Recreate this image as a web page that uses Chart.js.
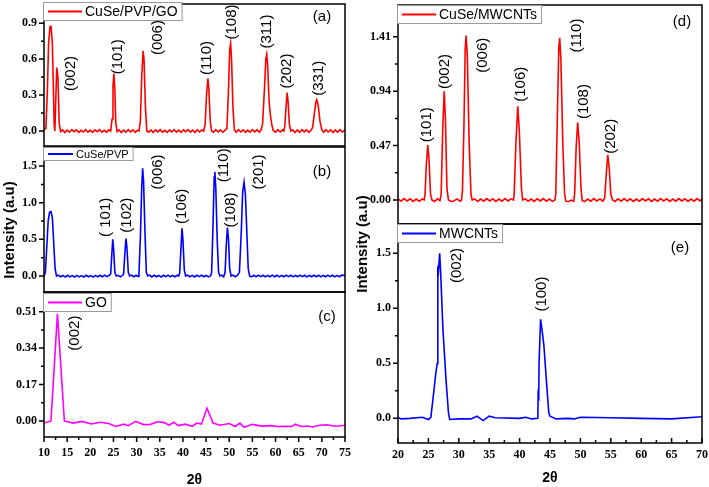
<!DOCTYPE html>
<html>
<head>
<meta charset="utf-8">
<script src="https://cdn.jsdelivr.net/npm/chart.js@4.4.0/dist/chart.umd.min.js"></script>
<style>
html, body { margin: 0; padding: 0; background: #fff; }
#fig { position: relative; width: 709px; height: 487px; overflow: hidden; background: #fff; }
#fig canvas { position: absolute; }
</style>
</head>
<body>
<div id="fig">
  <canvas id="ga" width="355" height="150" style="left:0;top:0"></canvas>
  <canvas id="gb" width="355" height="156" style="left:0;top:140px"></canvas>
  <canvas id="gc" width="355" height="201" style="left:0;top:286px"></canvas>
  <canvas id="gd" width="354" height="228" style="left:355px;top:0"></canvas>
  <canvas id="ge" width="354" height="337" style="left:355px;top:150px"></canvas>
</div>
<script>
// Dados: pares [2θ, intensidade]
const cuSePvpGo = [
  [10.0,0.01],[10.4,0.02],[10.7,0.3],[11.0,0.74],[11.3,0.87],[11.5,0.88],[11.8,0.74],[12.0,0.4],[12.2,0.05],[12.35,0.0],[12.5,0.2],[12.75,0.53],[13.0,0.45],[13.3,0.06],[13.6,-0.005],
  [14.0,0.01],[14.5,-0.012],[15.0,0.008],[15.5,-0.01],[16.0,0.012],[16.5,-0.006],[17.0,0.01],[17.5,-0.012],[18.0,0.006],[18.5,-0.008],[19.0,0.011],[19.5,-0.01],[20.0,0.007],[20.5,-0.012],[21.0,0.009],[21.5,-0.006],[22.0,0.012],[22.5,-0.01],[23.0,0.006],[23.5,-0.009],[24.0,0.01],[24.4,0.0],
  [24.7,0.1],[24.9,0.38],[25.1,0.48],[25.3,0.34],[25.5,0.07],[25.8,-0.005],
  [26.2,0.01],[26.7,-0.012],[27.2,0.008],[27.7,-0.01],[28.2,0.012],[28.7,-0.007],[29.2,0.01],[29.7,-0.011],[30.2,0.007],[30.5,0.0],
  [30.8,0.08],[31.1,0.45],[31.4,0.67],[31.6,0.6],[31.9,0.2],[32.2,0.0],
  [32.6,-0.01],[33.1,0.009],[33.6,-0.012],[34.1,0.01],[34.6,-0.007],[35.1,0.011],[35.6,-0.01],[36.1,0.006],[36.6,-0.012],[37.1,0.009],[37.6,-0.008],[38.1,0.012],[38.6,-0.01],[39.1,0.007],[39.6,-0.011],[40.1,0.01],[40.6,-0.006],[41.1,0.012],[41.6,-0.009],[42.1,0.008],[42.6,-0.012],[43.1,0.01],[43.6,-0.007],[44.1,0.009],[44.5,0.0],
  [44.8,0.06],[45.1,0.3],[45.4,0.44],[45.6,0.35],[45.9,0.08],[46.2,0.0],
  [46.6,-0.01],[47.1,0.011],[47.6,-0.008],[48.1,0.01],[48.6,-0.012],[49.1,0.007],[49.5,0.02],
  [49.8,0.3],[50.1,0.68],[50.3,0.73],[50.5,0.6],[50.8,0.2],[51.1,0.01],
  [51.5,-0.01],[52.0,0.012],[52.5,-0.008],[53.0,0.01],[53.5,-0.011],[54.0,0.008],[54.5,-0.01],[55.0,0.012],[55.5,-0.007],[56.0,0.01],[56.5,-0.009],[56.9,0.01],
  [57.2,0.06],[57.6,0.35],[57.9,0.6],[58.1,0.64],[58.3,0.55],[58.6,0.25],[58.9,0.13],[59.2,0.05],[59.5,0.005],
  [60.0,-0.01],[60.5,0.011],[61.0,-0.008],[61.5,0.01],[61.8,0.0],
  [62.0,0.04],[62.3,0.22],[62.5,0.32],[62.7,0.25],[63.0,0.05],[63.3,0.0],
  [63.7,0.01],[64.2,-0.012],[64.7,0.009],[65.2,-0.01],[65.7,0.012],[66.2,-0.007],[66.7,0.01],[67.2,-0.011],[67.7,0.008],
  [68.0,0.03],[68.4,0.15],[68.7,0.24],[68.9,0.26],[69.2,0.22],[69.6,0.08],[70.0,0.01],
  [70.4,-0.01],[70.9,0.011],[71.4,-0.008],[71.9,0.01],[72.4,-0.012],[72.9,0.009],[73.4,-0.01],[73.9,0.012],[74.4,-0.007],[75.0,0.008]
];

const cuSePvp = [
  [10.0,0.0],[10.3,0.05],[10.6,0.4],[10.9,0.75],[11.2,0.87],[11.5,0.88],[11.8,0.8],[12.1,0.45],[12.4,0.1],[12.7,0.0],
  [13.1,0.012],[13.6,-0.01],[14.1,0.008],[14.6,-0.014],[15.1,0.01],[15.6,-0.012],[16.1,0.006],[16.6,-0.015],[17.1,0.009],[17.6,-0.012],[18.1,0.005],[18.6,-0.014],[19.1,0.01],[19.6,-0.01],[20.1,0.006],[20.6,-0.015],[21.1,0.008],[21.6,-0.012],[22.1,0.01],[22.6,-0.01],[23.1,0.012],[23.6,-0.008],[24.1,0.01],
  [24.4,0.03],[24.65,0.3],[24.85,0.5],[25.05,0.35],[25.3,0.05],[25.6,0.0],
  [26.0,0.01],[26.5,-0.012],[27.0,0.01],
  [27.2,0.03],[27.45,0.3],[27.7,0.51],[27.9,0.4],[28.2,0.05],[28.5,0.0],
  [28.9,0.012],[29.4,-0.01],[29.9,0.01],[30.3,-0.005],
  [30.5,0.03],[30.8,0.5],[31.1,1.2],[31.3,1.47],[31.5,1.3],[31.8,0.6],[32.1,0.05],[32.4,0.0],
  [32.8,0.012],[33.3,-0.012],[33.8,0.01],[34.3,-0.01],[34.8,0.008],[35.3,-0.014],[35.8,0.01],[36.3,-0.008],[36.8,0.012],[37.3,-0.012],[37.8,0.008],[38.3,-0.01],[38.8,0.01],[39.1,0.0],
  [39.3,0.04],[39.55,0.35],[39.8,0.65],[40.0,0.5],[40.3,0.08],[40.6,0.0],
  [41.0,0.012],[41.5,-0.01],[42.0,0.009],[42.5,-0.013],[43.0,0.01],[43.5,-0.008],[44.0,0.012],[44.5,-0.01],[45.0,0.008],[45.5,-0.012],[46.0,0.005],
  [46.2,0.05],[46.5,0.7],[46.75,1.35],[46.9,1.42],[47.1,1.2],[47.4,0.5],[47.7,0.05],[48.0,0.0],
  [48.4,0.012],[48.8,-0.01],[49.1,0.05],[49.35,0.4],[49.6,0.66],[49.85,0.5],[50.1,0.1],[50.4,0.0],
  [50.8,0.012],[51.3,-0.01],[51.8,0.01],[52.2,0.05],[52.6,0.6],[52.9,1.15],[53.2,1.28],[53.5,1.1],[53.8,0.6],[54.1,0.1],[54.4,0.0],
  [54.8,-0.012],[55.3,0.01],[55.8,-0.01],[56.3,0.012],[56.8,-0.008],[57.3,0.01],[57.8,-0.012],[58.3,0.008],[58.8,-0.01],[59.3,0.012],[59.8,-0.009],[60.3,0.01],[60.8,-0.012],[61.3,0.008],[61.8,-0.01],[62.3,0.012],[62.8,-0.008],[63.3,0.01],[63.8,-0.012],[64.3,0.009],[64.8,-0.01],[65.3,0.012],[65.8,-0.008],[66.3,0.01],[66.8,-0.012],[67.3,0.008],[67.8,-0.01],[68.3,0.012],[68.8,-0.009],[69.3,0.01],[69.8,-0.012],[70.3,0.008],[70.8,-0.01],[71.3,0.012],[71.8,-0.008],[72.3,0.01],[72.8,-0.012],[73.3,0.009],[73.8,-0.01],[74.3,0.012],[75.0,0.005]
];

const go = [
  [10.0,-0.01],[11.5,0.0],[12.9,0.5],[14.4,0.0],[16.3,-0.01],[18.2,-0.002],[20.2,-0.014],[22.2,-0.006],[24.0,-0.012],[25.5,-0.026],[27.2,-0.015],[28.2,-0.022],[29.8,-0.002],[31.5,-0.017],[33.0,-0.016],[34.5,-0.004],[36.0,-0.008],[37.0,-0.02],[38.0,-0.006],[39.0,-0.022],[40.5,-0.015],[42.0,-0.025],[43.0,-0.01],[44.0,-0.015],[45.2,0.059],[46.5,-0.01],[48.0,-0.02],[50.0,-0.012],[51.3,-0.026],[52.3,-0.01],[53.2,-0.03],[55.0,-0.016],[57.0,-0.024],[59.0,-0.022],[60.5,-0.026],[62.0,-0.025],[63.5,-0.026],[64.3,-0.015],[65.5,-0.026],[67.0,-0.024],[68.0,-0.028],[69.5,-0.02],[71.0,-0.018],[73.0,-0.025],[75.0,-0.02]
];

const cuSeMwcnts = [
  [20.0,0.01],[20.5,-0.01],[21.0,0.012],[21.5,-0.008],[22.0,0.01],[22.5,-0.012],[23.0,0.008],[23.5,-0.01],[24.0,0.01],[24.3,0.0],
  [24.45,0.05],[24.65,0.3],[24.9,0.475],[25.1,0.35],[25.35,0.05],[25.6,0.0],
  [26.0,-0.012],[26.5,0.01],[26.9,-0.005],
  [27.1,0.05],[27.35,0.6],[27.6,0.94],[27.8,0.7],[28.05,0.1],[28.3,0.0],
  [28.7,-0.012],[29.2,-0.008],[29.7,0.01],[30.2,-0.01],[30.45,0.0],
  [30.6,0.08],[30.85,0.65],[31.05,1.3],[31.2,1.42],[31.4,1.25],[31.7,0.5],[32.0,0.05],[32.2,0.0],
  [32.6,0.01],[33.1,-0.012],[33.6,0.008],[34.1,-0.01],[34.6,0.012],[35.1,-0.008],[35.6,0.01],[36.1,-0.012],[36.6,0.008],[37.1,-0.01],[37.6,0.012],[38.1,-0.008],[38.6,0.01],[39.0,0.0],
  [39.1,0.05],[39.4,0.5],[39.7,0.81],[39.95,0.6],[40.3,0.1],[40.5,0.0],
  [40.9,0.012],[41.4,-0.01],[41.9,0.008],[42.4,-0.012],[42.9,0.01],[43.4,-0.008],[43.9,0.012],[44.4,-0.01],[44.9,0.008],[45.4,-0.012],[45.8,0.0],
  [45.95,0.05],[46.2,0.7],[46.45,1.32],[46.6,1.4],[46.8,1.2],[47.1,0.5],[47.4,0.05],[47.6,-0.01],
  [48.0,-0.014],[48.5,0.0],[48.9,-0.01],
  [49.05,0.05],[49.3,0.45],[49.55,0.67],[49.8,0.5],[50.1,0.1],[50.3,-0.005],
  [50.7,-0.014],[51.2,0.008],[51.7,-0.01],[52.2,0.012],[52.7,-0.008],[53.2,0.01],[53.7,-0.01],[54.0,0.02],
  [54.25,0.22],[54.5,0.39],[54.75,0.27],[55.0,0.05],[55.3,0.0],
  [55.7,-0.012],[56.2,0.01],[56.7,-0.01],[57.2,0.012],[57.7,-0.008],[58.2,0.01],[58.7,-0.012],[59.2,0.008],[59.7,-0.01],[60.2,0.012],[60.7,-0.008],[61.2,0.01],[61.7,-0.012],[62.2,0.008],[62.7,-0.01],[63.2,0.012],[63.7,-0.008],[64.2,0.01],[64.7,-0.012],[65.2,0.008],[65.7,-0.01],[66.2,0.012],[66.7,-0.008],[67.2,0.01],[67.7,-0.012],[68.2,0.008],[68.7,-0.01],[69.2,0.012],[69.7,-0.008],[70.0,0.01]
];

const mwcnts = [
  [20.0,0.01],[20.5,-0.005],[22.0,0.0],[24.0,0.01],[25.0,-0.01],[25.4,0.01],[25.8,0.2],[26.2,0.4],[26.45,0.5],[26.55,1.35],[26.65,1.33],[26.85,1.5],[27.0,1.35],[27.4,0.8],[27.9,0.35],[28.3,0.05],[28.5,-0.01],
  [30.0,-0.005],[32.0,-0.005],[33.0,0.02],[33.5,0.0],[34.0,-0.02],[35.0,0.02],[36.0,0.005],[40.0,0.0],[41.0,0.01],[42.0,-0.005],[43.0,0.0],
  [43.05,0.22],[43.15,0.2],[43.2,0.5],[43.45,0.9],[43.7,0.8],[44.0,0.66],[44.4,0.35],[44.8,0.05],[45.0,0.02],
  [46.0,-0.005],[48.0,0.0],[49.0,-0.005],[50.0,0.01],[55.0,0.005],[60.0,0.0],[65.0,-0.005],[70.0,0.015]
];

// Ticks dos eixos
const xMaiorEsq = [10,15,20,25,30,35,40,45,50,55,60,65,70,75];
const xMenorEsq = [12.5,17.5,22.5,27.5,32.5,37.5,42.5,47.5,52.5,57.5,62.5,67.5,72.5];
const xMaiorDir = [20,25,30,35,40,45,50,55,60,65,70];
const xMenorDir = [22.5,27.5,32.5,37.5,42.5,47.5,52.5,57.5,62.5,67.5];
const yMaiorA = [0,0.3,0.6,0.9],   yMenorA = [0.15,0.45,0.75];
const yMaiorB = [0,0.5,1.0,1.5],   yMenorB = [0.25,0.75,1.25];
const yMaiorC = [0,0.17,0.34,0.51], yMenorC = [0.085,0.255,0.425];
const yMaiorD = [0,0.47,0.94,1.41], yMenorD = [0.235,0.705,1.175];
const yMaiorE = [0,0.5,1.0,1.5],   yMenorE = [0.25,0.75,1.25];

// Índices (hkl) com posição [2θ, intensidade] do centro do texto
const picosA = [["(002)",15.7,0.48],["(101)",25.9,0.62],["(006)",34.6,0.78],["(110)",45.2,0.61],["(108)",50.6,0.91],["(311)",58.1,0.83],["(202)",62.5,0.5],["(331)",69.4,0.44]];
const picosB = [["( 101)",23.4,0.8],["(102)",27.8,0.83],["(006)",34.6,1.42],["(106)",39.7,0.95],["(110)",48.8,1.51],["(108)",50.4,0.9],["(201)",56.5,1.42]];
const picosC = [["(002)",16.6,0.41]];
const picosD = [["(101)",24.7,0.65],["(002)",27.7,1.11],["(006)",34.0,1.25],["(106)",40.2,1.0],["(110)",49.4,1.42],["(108)",50.5,0.85],["(202)",55.0,0.55]];
const picosE = [["(002)",29.65,1.39],["(100)",43.6,1.13]];

Chart.defaults.color = "#000";
Chart.defaults.font.family = "'Liberation Serif', serif";

// Plugin que desenha moldura, ticks, legenda e rótulos de cada painel
function painelPlugin(cfg) {
  return {
    id: "painel",
    afterDraw(chart) {
      const { ctx, chartArea: a, scales } = chart;
      const sx = scales.x, sy = scales.y;
      ctx.save();
      ctx.strokeStyle = "#000";
      ctx.lineWidth = 1.5;
      ctx.strokeRect(a.left, a.top, a.right - a.left, a.bottom - a.top);

      // ticks do eixo y (para fora)
      ctx.beginPath();
      cfg.yMaior.forEach(v => { const p = sy.getPixelForValue(v); ctx.moveTo(a.left, p); ctx.lineTo(a.left - 5, p); });
      cfg.yMenor.forEach(v => { const p = sy.getPixelForValue(v); ctx.moveTo(a.left, p); ctx.lineTo(a.left - 3, p); });
      // ticks do eixo x (só nos painéis de baixo)
      if (cfg.xMaior) {
        const d = cfg.xDentro ? -1 : 1;
        cfg.xMaior.forEach(v => { const p = sx.getPixelForValue(v); ctx.moveTo(p, a.bottom); ctx.lineTo(p, a.bottom + 5 * d); });
        cfg.xMenor.forEach(v => { const p = sx.getPixelForValue(v); ctx.moveTo(p, a.bottom); ctx.lineTo(p, a.bottom + 3 * d); });
      }
      ctx.stroke();

      // índices dos picos
      ctx.fillStyle = "#000";
      ctx.font = "15px 'Liberation Sans'";
      ctx.textAlign = "center";
      ctx.textBaseline = "middle";
      cfg.picos.forEach(([t, x, y]) => {
        ctx.save();
        ctx.translate(sx.getPixelForValue(x), sy.getPixelForValue(y));
        ctx.rotate(-Math.PI / 2);
        ctx.fillText(t, 0, 0);
        ctx.restore();
      });

      // letra do painel
      ctx.fillText(cfg.letra, a.right - cfg.letraPos[0], a.top + cfg.letraPos[1]);

      // legenda
      const lg = cfg.legenda;
      const ds = chart.data.datasets[0];
      ctx.font = lg.fs + "px 'Liberation Sans'";
      const tw = ctx.measureText(ds.label).width;
      const bx = a.left - 1, by = a.top + lg.dy;
      const bw = lg.amostra + 8 + tw + 4;
      ctx.fillStyle = "#fff";
      ctx.fillRect(bx, by, bw, lg.h);
      ctx.strokeStyle = "#9a9a9a";
      ctx.lineWidth = 1;
      ctx.strokeRect(bx + 0.5, by + 0.5, bw, lg.h);
      ctx.strokeStyle = ds.borderColor;
      ctx.lineWidth = 2;
      ctx.beginPath();
      ctx.moveTo(bx + 5, by + lg.h / 2 + 0.5);
      ctx.lineTo(bx + 5 + lg.amostra, by + lg.h / 2 + 0.5);
      ctx.stroke();
      ctx.fillStyle = "#000";
      ctx.textAlign = "left";
      ctx.fillText(ds.label, bx + lg.amostra + 8, by + lg.h / 2 + 1);

      // título do eixo y
      if (cfg.titulo) {
        ctx.font = "bold 15px 'Liberation Sans'";
        ctx.textAlign = "center";
        ctx.save();
        ctx.translate(cfg.titulo[0], cfg.titulo[1]);
        ctx.rotate(-Math.PI / 2);
        ctx.fillText("Intensity (a.u)", 0, 0);
        ctx.restore();
      }
      ctx.restore();
    }
  };
}

function criaPainel(id, cfg) {
  const eixoX = {
    type: "linear",
    min: cfg.xMin,
    max: cfg.xMax,
    display: !!cfg.xMaior,
    grid: { display: false, drawTicks: false },
    border: { display: false },
    ticks: {
      autoSkip: false,
      maxRotation: 0,
      padding: cfg.xPad || 0,
      font: { size: 12, weight: "bold" },
      callback: v => String(v)
    },
    title: {
      display: !!cfg.xMaior,
      text: "2θ",
      font: { family: "'Liberation Sans'", size: 14, weight: "bold", lineHeight: 1 },
      padding: { top: 0, bottom: cfg.tituloPad || 0 }
    },
    afterBuildTicks: s => { if (cfg.xMaior) s.ticks = cfg.xMaior.map(v => ({ value: v })); },
    afterFit: s => {
      s.paddingLeft = 0; s.paddingRight = 0; s.paddingTop = 0; s.paddingBottom = 0;
      if (cfg.xAltura) s.height = cfg.xAltura;
    }
  };
  const eixoY = {
    type: "linear",
    min: cfg.yMin,
    max: cfg.yMax,
    grid: { display: false, drawTicks: false },
    border: { display: false },
    ticks: {
      autoSkip: false,
      padding: 7,
      font: { size: 12, weight: "bold" },
      callback: v => v.toFixed(cfg.casas)
    },
    afterBuildTicks: s => { s.ticks = cfg.yMaior.map(v => ({ value: v })); },
    afterFit: s => {
      s.width = cfg.yLargura;
      s.paddingLeft = 0; s.paddingRight = 0; s.paddingTop = 0; s.paddingBottom = 0;
    }
  };
  return new Chart(document.getElementById(id), {
    type: "line",
    data: {
      datasets: [{
        label: cfg.nome,
        data: cfg.dados.map(p => ({ x: p[0], y: p[1] })),
        borderColor: cfg.cor,
        borderWidth: 1.6,
        pointRadius: 0,
        tension: 0,
        fill: false
      }]
    },
    options: {
      responsive: false,
      animation: false,
      layout: { padding: cfg.pad },
      scales: { x: eixoX, y: eixoY },
      plugins: { legend: { display: false }, tooltip: { enabled: false } }
    },
    plugins: [painelPlugin(cfg)]
  });
}

criaPainel("ga", {
  nome: "CuSe/PVP/GO", cor: "#ff0000", dados: cuSePvpGo,
  xMin: 10, xMax: 75, yMin: -0.125, yMax: 1.06, casas: 1,
  yMaior: yMaiorA, yMenor: yMenorA, yLargura: 44,
  pad: { top: 4, bottom: 4, left: 0, right: 10 },
  picos: picosA, letra: "(a)", letraPos: [23, 13],
  legenda: { dy: -2, h: 18, fs: 14, amostra: 34 }
});

criaPainel("gb", {
  nome: "CuSe/PVP", cor: "#0000ff", dados: cuSePvp,
  xMin: 10, xMax: 75, yMin: -0.218, yMax: 1.76, casas: 1,
  yMaior: yMaiorB, yMenor: yMenorB, yLargura: 44,
  pad: { top: 7, bottom: 4, left: 0, right: 10 },
  picos: picosB, letra: "(b)", letraPos: [23, 25],
  legenda: { dy: 0, h: 13, fs: 11, amostra: 25 },
  titulo: [10, 90]
});

criaPainel("gc", {
  nome: "GO", cor: "#ff00ff", dados: go,
  xMin: 10, xMax: 75, yMin: -0.075, yMax: 0.602, casas: 2,
  yMaior: yMaiorC, yMenor: yMenorC, yLargura: 44,
  xMaior: xMaiorEsq, xMenor: xMenorEsq, xDentro: false, xAltura: 50, xPad: 9, tituloPad: 0,
  pad: { top: 6, bottom: 0, left: 0, right: 10 },
  picos: picosC, letra: "(c)", letraPos: [18, 25],
  legenda: { dy: 1, h: 18, fs: 14, amostra: 34 }
});

criaPainel("gd", {
  nome: "CuSe/MWCNTs", cor: "#ff0000", dados: cuSeMwcnts,
  xMin: 20, xMax: 70, yMin: -0.207, yMax: 1.684, casas: 2,
  yMaior: yMaiorD, yMenor: yMenorD, yLargura: 43,
  pad: { top: 5, bottom: 4, left: 0, right: 7 },
  picos: picosD, letra: "(d)", letraPos: [20, 17],
  legenda: { dy: 0, h: 18, fs: 14, amostra: 34 }
});

criaPainel("ge", {
  nome: "MWCNTs", cor: "#0000ff", dados: mwcnts,
  xMin: 20, xMax: 70, yMin: -0.224, yMax: 1.767, casas: 1,
  yMaior: yMaiorE, yMenor: yMenorE, yLargura: 43,
  xMaior: xMaiorDir, xMenor: xMenorDir, xDentro: true, xAltura: 44, xPad: 5, tituloPad: 2,
  pad: { top: 74, bottom: 0, left: 0, right: 7 },
  picos: picosE, letra: "(e)", letraPos: [22, 24],
  legenda: { dy: 0, h: 18, fs: 14, amostra: 34 },
  titulo: [8, 94]
});
</script>
</body>
</html>
